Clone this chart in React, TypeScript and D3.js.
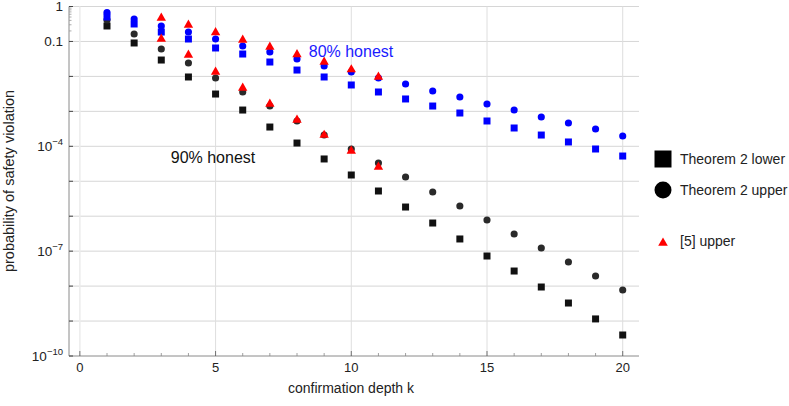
import React from "react";
import * as d3 from "d3";

const depths = d3.range(1, 21);
const redDepths = d3.range(3, 12);

// 90% honest
const lower90 = [0.277, 0.0904, 0.0294, 0.00962, 0.00313, 0.00109, 3.56e-4, 1.24e-4, 4.34e-5, 1.51e-5, 5.26e-6, 1.83e-6, 6.38e-7, 2.23e-7, 7.26e-8, 2.7e-8, 9.42e-9, 3.28e-9, 1.15e-9, 3.99e-10];
const upper90 = [0.411, 0.163, 0.0608, 0.0242, 0.009, 0.00358, 0.00142, 5.3e-4, 2.1e-4, 8.37e-5, 3.33e-5, 1.32e-5, 4.92e-6, 1.96e-6, 7.78e-7, 3.1e-7, 1.23e-7, 4.9e-8, 1.95e-8, 7.73e-9];
const ref90 = [0.1175, 0.0409, 0.0134, 0.00466, 0.00162, 5.65e-4, 2.1e-4, 7.34e-5, 2.56e-5];

// 80% honest
const lower80 = [0.501, 0.316, 0.186, 0.1175, 0.065, 0.0437, 0.0258, 0.0152, 0.00962, 0.00568, 0.00358, 0.00226, 0.00142, 8.97e-4, 5.3e-4, 3.34e-4, 2.1e-4, 1.33e-4, 8.37e-5, 5.27e-5];
const upper80 = [0.673, 0.439, 0.277, 0.186, 0.1175, 0.0741, 0.0499, 0.0315, 0.0199, 0.0134, 0.009, 0.00606, 0.00382, 0.00257, 0.00162, 0.00109, 6.89e-4, 4.64e-4, 3.13e-4, 1.97e-4];
const ref80 = [0.469, 0.296, 0.18, 0.11, 0.0694, 0.0423, 0.0258, 0.0157, 0.00962];

const xTicks = [0, 5, 10, 15, 20];
const yLabelExps = [0, -1, -4, -7, -10];
const legendLabels = ["Theorem 2 lower", "Theorem 2 upper", "[5] upper"];

const FONT = "'Liberation Sans', Arial, Helvetica, sans-serif";

export default function App() {
  const x = d3.scaleLinear().domain([-0.4, 20.6]).range([69, 639]);
  const y = d3.scaleLog().domain([1e-10, 1]).range([356, 6.5]);
  const [x0, x1] = x.range();
  const [yb, yt] = y.range();

  const sq = d3.symbol().type(d3.symbolSquare).size(49)() as string;
  const circ = d3.symbol().type(d3.symbolCircle).size(40)() as string;
  const tri = d3.symbol().type(d3.symbolTriangle).size(38)() as string;
  const legSq = d3.symbol().type(d3.symbolSquare).size(289)() as string;
  const legCirc = d3.symbol().type(d3.symbolCircle).size(227)() as string;
  const legTri = d3.symbol().type(d3.symbolTriangle).size(40)() as string;

  const decades = d3.range(0, -11, -1).map((e) => Math.pow(10, e));
  const minorTop = d3.range(2, 10).map((m) => m / 10);

  const pts = (ks: number[], vals: number[]) => ks.map((k, i) => [x(k), y(vals[i])]);

  return (
    <svg width={789} height={406} style={{ position: "absolute", left: 0, top: 0, background: "#fff" }} fontFamily={FONT}>
      {/* grid */}
      {decades.slice(0, 10).map((v, i) => (
        <line key={"hg" + i} x1={x0} x2={x1} y1={y(v)} y2={y(v)} stroke="#d6d6d6" strokeWidth={1} />
      ))}
      {xTicks.map((t) => (
        <line key={"vg" + t} x1={x(t)} x2={x(t)} y1={yt} y2={yb} stroke={t === 0 ? "#ececec" : "#dedede"} strokeWidth={t === 0 ? 1.5 : 1} />
      ))}
      {/* axes */}
      <line x1={x0} x2={x0} y1={yt} y2={yb} stroke="#8a8a8a" />
      <line x1={x0} x2={x1} y1={yb} y2={yb} stroke="#8a8a8a" />
      {decades.map((v, i) => (
        <line key={"yt" + i} x1={x0} x2={x0 + 4} y1={y(v)} y2={y(v)} stroke="#444" />
      ))}
      {minorTop.map((v, i) => (
        <line key={"ym" + i} x1={x0} x2={x0 + 2.5} y1={y(v)} y2={y(v)} stroke="#999" strokeWidth={0.8} />
      ))}
      {d3.range(0, 21).map((k) => (
        <line key={"xt" + k} x1={x(k)} x2={x(k)} y1={yb} y2={yb - (k % 5 === 0 ? 5 : 3)} stroke={k % 5 === 0 ? "#555" : "#888"} strokeWidth={0.8} />
      ))}
      {/* tick labels */}
      {xTicks.map((t) => (
        <text key={"xl" + t} x={x(t)} y={yb + 16} textAnchor="middle" fontSize={13} fill="#222">{t}</text>
      ))}
      {yLabelExps.map((e) => {
        const yy = y(Math.pow(10, e));
        if (e === 0) return <text key="y0" x={63} y={yy + 4.5} textAnchor="end" fontSize={13.5} fill="#222">1</text>;
        if (e === -1) return <text key="y1" x={63} y={yy + 4.5} textAnchor="end" fontSize={13.5} fill="#222">0.1</text>;
        return (
          <text key={"y" + e} x={63} y={yy + 5} textAnchor="end" fontSize={13.5} fill="#222">
            10<tspan dy={-6} fontSize={9.5}>{"\u2212" + -e}</tspan>
          </text>
        );
      })}
      {/* axis titles */}
      <text x={351} y={393} textAnchor="middle" fontSize={14} fill="#222">confirmation depth k</text>
      <text transform={`translate(14,181) rotate(-90)`} textAnchor="middle" fontSize={14.5} fill="#222">probability of safety violation</text>
      {/* data */}
      {pts(depths, lower90).map(([px, py], i) => <path key={"l9" + i} d={sq} transform={`translate(${px},${py})`} fill="#111" />)}
      {pts(depths, upper90).map(([px, py], i) => <path key={"u9" + i} d={circ} transform={`translate(${px},${py})`} fill="#2a2a2a" />)}
      {pts(depths, lower80).map(([px, py], i) => <path key={"l8" + i} d={sq} transform={`translate(${px},${py})`} fill="#0000ff" />)}
      {pts(depths, upper80).map(([px, py], i) => <path key={"u8" + i} d={circ} transform={`translate(${px},${py})`} fill="#0000ff" />)}
      {pts(redDepths, ref90).map(([px, py], i) => <path key={"r9" + i} d={tri} transform={`translate(${px},${py})`} fill="#ff0000" />)}
      {pts(redDepths, ref80).map(([px, py], i) => <path key={"r8" + i} d={tri} transform={`translate(${px},${py})`} fill="#ff0000" />)}
      {/* annotations */}
      <text x={351} y={57} textAnchor="middle" fontSize={16} fill="#1a1aff">80% honest</text>
      <text x={213} y={163} textAnchor="middle" fontSize={16} fill="#111">90% honest</text>
      {/* legend */}
      <path d={legSq} transform="translate(663,159)" fill="#000" />
      <text x={680} y={164} fontSize={14} fill="#222">{legendLabels[0]}</text>
      <path d={legCirc} transform="translate(663,190)" fill="#000" />
      <text x={680} y={195} fontSize={14} fill="#222">{legendLabels[1]}</text>
      <path d={legTri} transform="translate(663,243)" fill="#ff0000" />
      <text x={680} y={246} fontSize={14} fill="#222">{legendLabels[2]}</text>
    </svg>
  );
}
